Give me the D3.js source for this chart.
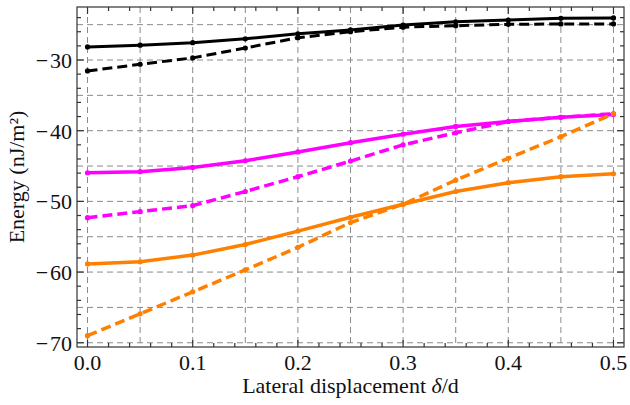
<!DOCTYPE html>
<html><head><meta charset="utf-8">
<script src="https://cdn.jsdelivr.net/npm/d3@7"></script>
<style>body{margin:0;background:#fff}svg{display:block}</style>
</head><body>
<svg id="c" width="630" height="405"></svg>
<script>
const xs = [0, 0.05, 0.1, 0.15, 0.2, 0.25, 0.3, 0.35, 0.4, 0.45, 0.5];
const blackSolid = [-28.15, -27.9, -27.55, -27.0, -26.3, -25.75, -25.05, -24.6, -24.35, -24.1, -24.05];
const blackDashed = [-31.55, -30.6, -29.7, -28.3, -26.85, -26.0, -25.35, -25.15, -24.95, -24.9, -24.9];
const magentaSolid = [-45.95, -45.8, -45.2, -44.25, -43.0, -41.7, -40.5, -39.4, -38.7, -38.1, -37.7];
const magentaDashed = [-52.3, -51.45, -50.6, -48.6, -46.5, -44.3, -42.0, -40.3, -38.7, -38.1, -37.6];
const orangeSolid = [-58.85, -58.55, -57.6, -56.1, -54.2, -52.25, -50.4, -48.6, -47.35, -46.5, -46.1];
const orangeDashed = [-69.0, -65.9, -62.8, -59.7, -56.5, -53.0, -50.4, -47.0, -43.9, -40.85, -37.6];
const xTicks = [0, 0.1, 0.2, 0.3, 0.4, 0.5];
const yTicks = [-70, -60, -50, -40, -30];
const series = [
  {v: blackDashed, c: "#000", d: true, w: 3},
  {v: blackSolid, c: "#000", d: false, w: 3},
  {v: magentaDashed, c: "#ff00ff", d: true, w: 3.5},
  {v: magentaSolid, c: "#ff00ff", d: false, w: 3.5},
  {v: orangeSolid, c: "#ff8000", d: false, w: 3.5},
  {v: orangeDashed, c: "#ff8000", d: true, w: 3.5}
];

const L = 77, R = 624, T = 7, B = 347;
const x = d3.scaleLinear().domain([-0.01, 0.51]).range([L, R]);
const y = d3.scaleLinear().domain([-70.6, -22.5]).range([B, T]);
const svg = d3.select("#c");
const font = "'Liberation Serif','Times New Roman',serif";

// grid
const g = svg.append("g").attr("stroke", "#8a8a8a").attr("stroke-width", 1).attr("stroke-dasharray", "6,4");
d3.range(0, 0.5001, 0.05).forEach(v => g.append("line").attr("x1", x(v)).attr("x2", x(v)).attr("y1", T).attr("y2", B));
d3.range(-70, -24.99, 5).forEach(v => g.append("line").attr("y1", y(v)).attr("y2", y(v)).attr("x1", L).attr("x2", R));

// series
const line = d3.line().x((d, i) => x(xs[i])).y(d => y(d));
series.forEach(s => {
  svg.append("path").datum(s.v).attr("d", line).attr("fill", "none")
    .attr("stroke", s.c).attr("stroke-width", s.w)
    .attr("stroke-dasharray", s.d ? "10,5" : null).attr("stroke-linejoin", "round");
  svg.append("g").selectAll("circle").data(s.v).join("circle")
    .attr("cx", (d, i) => x(xs[i])).attr("cy", d => y(d)).attr("r", 2.6).attr("fill", s.c);
});

// frame and ticks
const ax = svg.append("g").attr("stroke", "#333").attr("stroke-width", 1.2);
ax.append("rect").attr("x", L).attr("y", T).attr("width", R - L).attr("height", B - T).attr("fill", "none");
d3.range(0, 0.5001, 0.02).forEach(v => {
  const major = Math.abs(v * 10 - Math.round(v * 10)) < 1e-6;
  const len = major ? 7 : 4;
  ax.append("line").attr("x1", x(v)).attr("x2", x(v)).attr("y1", B).attr("y2", B - len);
  ax.append("line").attr("x1", x(v)).attr("x2", x(v)).attr("y1", T).attr("y2", T + len);
});
d3.range(-70, -22.9, 2).forEach(v => {
  const major = v % 10 === 0;
  const len = major ? 7 : 4;
  ax.append("line").attr("y1", y(v)).attr("y2", y(v)).attr("x1", L).attr("x2", L + len);
  ax.append("line").attr("y1", y(v)).attr("y2", y(v)).attr("x1", R).attr("x2", R - len);
});

// labels
const t = svg.append("g").attr("font-family", font).attr("font-size", 22).attr("fill", "#111");
xTicks.forEach(v => t.append("text").attr("x", x(v)).attr("y", 370).attr("text-anchor", "middle").text(d3.format(".1f")(v)));
yTicks.forEach(v => t.append("text").attr("x", 72).attr("y", y(v) + 8).attr("text-anchor", "end").text("\u2212\u200a" + Math.abs(v)));
const xt = t.append("text").attr("x", (L + R) / 2).attr("y", 393).attr("text-anchor", "middle");
xt.append("tspan").text("Lateral displacement ");
xt.append("tspan").attr("font-style", "italic").text("\u03b4");
xt.append("tspan").text("/d");
t.append("text").attr("transform", `translate(24,${(T + B) / 2}) rotate(-90)`).attr("text-anchor", "middle").text("Energy (nJ/m\u00b2)");
</script>
</body></html>
